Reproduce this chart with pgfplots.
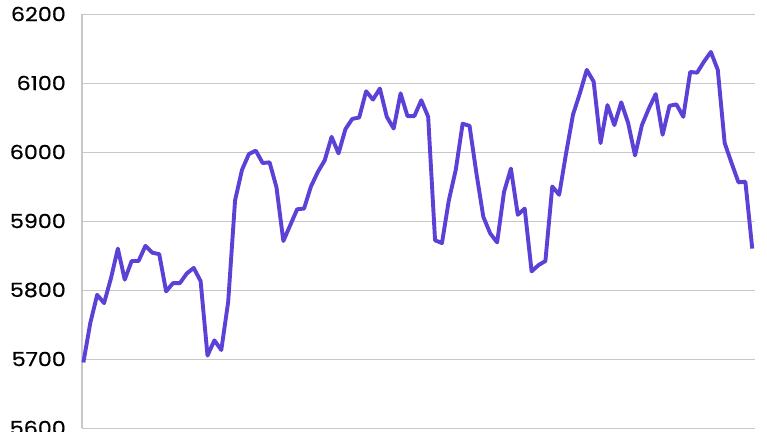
\documentclass[border=0pt]{standalone}
\usepackage{pgfplots}
\pgfplotsset{compat=1.18}
\usepackage{fontspec}
\setmainfont{Poppins}
\newfontfamily\tickfont[FakeStretch=1.14,FakeBold=0.6]{Poppins}
\definecolor{lineC}{HTML}{5D41D6}
\definecolor{gridC}{HTML}{C8C8C8}
\begin{document}
\begin{tikzpicture}
\begin{axis}[
  name=ax,
  at={(0pt,0pt)}, anchor=south west,
  scale only axis,
  width=673pt, height=414pt,
  xmin=-0.2, xmax=97.4,
  ymin=5600, ymax=6200,
  ytick={5600,5700,...,6200},
  xtick=\empty,
  axis x line=none,
  axis y line*=left,
  y axis line style={draw=gridC, line width=1.3pt},
  major tick length=0pt,
  ymajorgrids,
  grid style={draw=gridC, line width=1pt},
  /pgf/number format/assume math mode=true,
  /pgf/number format/1000 sep={},
  yticklabel style={font=\tickfont\fontsize{19.5}{22}\selectfont, anchor=east, inner sep=0pt, xshift=-16pt},
  clip=false,
]
\addplot[lineC, line width=3.9pt, line join=round] coordinates {
(0,5695)(1,5752)(2,5793)(3,5781)(4,5817)(5,5860)(6,5815)(7,5842)(8,5842)(9,5864)
(10,5854)(11,5852)(12,5798)(13,5810)(14,5810)(15,5824)(16,5832)(17,5813)(18,5705)(19,5727)
(20,5713)(21,5783)(22,5930)(23,5974)(24,5997)(25,6002)(26,5984)(27,5985)(28,5949)(29,5871)
(30,5894)(31,5917)(32,5918)(33,5950)(34,5971)(35,5988)(36,6022)(37,5998)(38,6033)(39,6048)
(40,6050)(41,6088)(42,6076)(43,6092)(44,6051)(45,6034)(46,6085)(47,6052)(48,6052)(49,6075)
(50,6051)(51,5872)(52,5868)(53,5930)(54,5974)(55,6041)(56,6038)(57,5969)(58,5906)(59,5882)
(60,5869)(61,5942)(62,5976)(63,5909)(64,5918)(65,5827)(66,5836)(67,5842)(68,5950)(69,5938)
(70,5998)(71,6054)(72,6085)(73,6119)(74,6102)(75,6013)(76,6068)(77,6039)(78,6072)(79,6042)
(80,5995)(81,6039)(82,6063)(83,6084)(84,6025)(85,6067)(86,6069)(87,6051)(88,6116)(89,6115)
(90,6131)(91,6145)(92,6119)(93,6013)(94,5984)(95,5956)(96,5957)(97,5860)
};
\end{axis}
\pgfresetboundingbox
\path[use as bounding box] (-82pt,-3pt) rectangle (685pt,428pt);
\end{tikzpicture}
\end{document}
